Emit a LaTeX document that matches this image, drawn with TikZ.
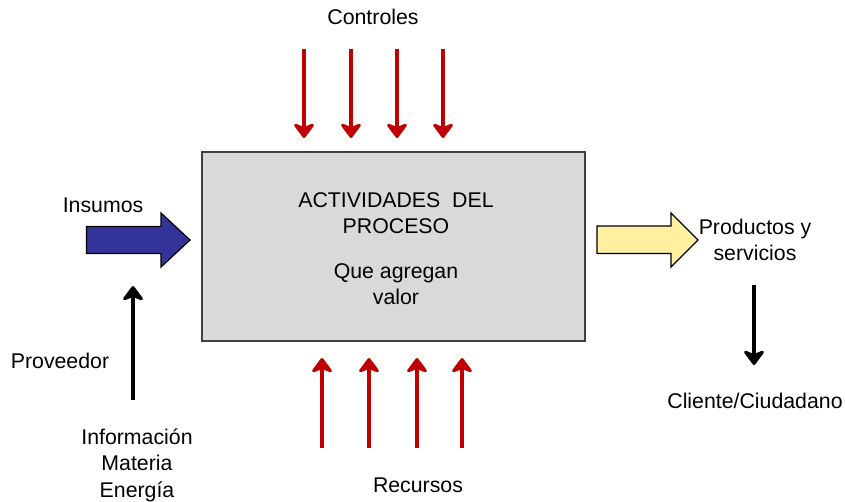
\documentclass[tikz,border=0pt]{standalone}
\usepackage{fontspec}
\setmainfont{Liberation Sans}
\usetikzlibrary{arrows.meta}
\definecolor{redarr}{HTML}{C00000}
\definecolor{boxgray}{HTML}{D9D9D9}
\definecolor{blockblue}{HTML}{333399}
\definecolor{blockyellow}{HTML}{FFF0A0}
\tikzset{
  lbl/.style={font=\fontsize{21.3}{26.5}\selectfont, align=center, inner sep=0pt},
  redarrow/.style={draw=redarr, line width=4pt, -{Stealth[length=17pt,width=25pt,inset=5pt,round]}},
  blackarrow/.style={draw=black, line width=4pt, -{Stealth[length=17pt,width=25pt,inset=5pt,round]}},
  blockarrow/.style={draw=black, line width=1.2pt, line join=miter}
}
\begin{document}
\begin{tikzpicture}[x=1pt,y=-1pt]
\useasboundingbox (0,0) rectangle (845,501);
% main box
\node[draw=black!75, fill=boxgray, line width=1.2pt, minimum width=383pt, minimum height=189pt, inner sep=0pt] (box) at (393.5,246.5) {};
\node[lbl] (act) at (396,213) {ACTIVIDADES\ \ DEL\\PROCESO};
\node[lbl] (que) at (396,284) {Que agregan\\valor};
% labels
\node[lbl] (controles) at (373,17) {Controles};
\node[lbl] (recursos) at (418,485) {Recursos};
\node[lbl] (insumos) at (103,205) {Insumos};
\node[lbl] (proveedor) at (60,361) {Proveedor};
\node[lbl] (info) at (137,465) {Información\\Materia\\Energía};
\node[lbl] (productos) at (755,240) {Productos y\\servicios};
\node[lbl] (cliente) at (755,401) {Cliente/Ciudadano};
% block arrows
\draw[blockarrow, fill=blockblue] (86.5,226.5) -- (161,226.5) -- (161,213) -- (190,240) -- (161,267) -- (161,253.5) -- (86.5,253.5) -- cycle;
\draw[blockarrow, fill=blockyellow] (597,226) -- (671,226) -- (671,213) -- (698,240) -- (671,267) -- (671,253.5) -- (597,253.5) -- cycle;
% control arrows
\foreach \i/\x in {1/304,2/351,3/397,4/443}{
  \coordinate (c\i s) at (\x,49);
  \coordinate (c\i e) at (\x,138);
  \draw[redarrow] (c\i s) -- (c\i e);
}
% resource arrows
\foreach \i/\x in {1/322,2/369,3/417,4/462}{
  \coordinate (r\i s) at (\x,448);
  \coordinate (r\i e) at (\x,358);
  \draw[redarrow] (r\i s) -- (r\i e);
}
% black arrows
\coordinate (pvs) at (133,400);
\coordinate (pve) at (133,286);
\draw[blackarrow] (pvs) -- (pve);
\coordinate (cls) at (754,285);
\coordinate (cle) at (754,365);
\draw[blackarrow] (cls) -- (cle);
\end{tikzpicture}
\end{document}
